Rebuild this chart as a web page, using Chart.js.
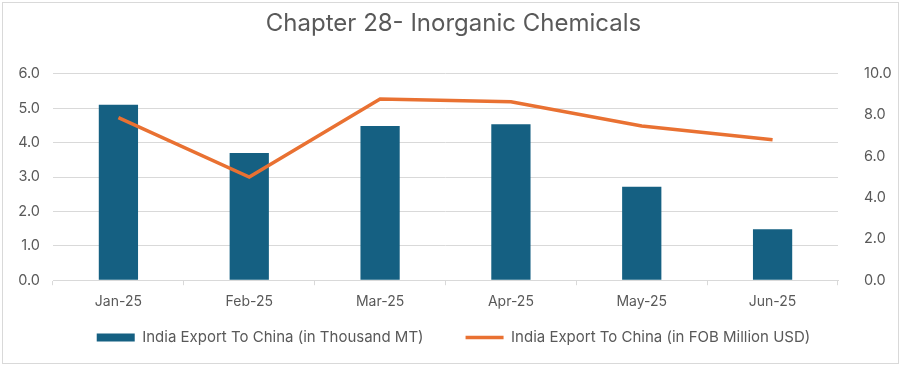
<!DOCTYPE html>
<html>
<head>
<meta charset="utf-8">
<script src="https://cdn.jsdelivr.net/npm/chart.js@4"></script>
<style>
  html, body { margin: 0; padding: 0; background: #fff; }
  #wrap {
    position: absolute; left: 2px; top: 2px; width: 897px; height: 362px;
    border: 1px solid #d9d9d9; box-sizing: border-box; background: #fff;
  }
</style>
</head>
<body>
<div id="wrap"><canvas id="chart"></canvas></div>
<script>
const months = ['Jan-25', 'Feb-25', 'Mar-25', 'Apr-25', 'May-25', 'Jun-25'];
const exportQty = [5.1, 3.7, 4.48, 4.53, 2.72, 1.48];
const exportValue = [7.88, 5.0, 8.78, 8.64, 7.47, 6.8];
const leftTicks = [0, 1, 2, 3, 4, 5, 6];
const rightTicks = [0, 2, 4, 6, 8, 10];

const textColor = '#595959';
const gridColor = '#d9d9d9';
const font = 'Inter, "Open Sans", sans-serif';

new Chart(document.getElementById('chart'), {
  data: {
    labels: months,
    datasets: [
      {
        type: 'line',
        label: 'India Export To China (in FOB Million USD)',
        data: exportValue,
        yAxisID: 'y1',
        borderColor: '#E97132',
        backgroundColor: '#E97132',
        borderWidth: 3.5,
        pointRadius: 0,
        tension: 0,
        order: 0
      },
      {
        type: 'bar',
        label: 'India Export To China (in Thousand MT)',
        data: exportQty,
        yAxisID: 'y',
        backgroundColor: '#156082',
        barPercentage: 0.3,
        categoryPercentage: 1,
        order: 1
      }
    ]
  },
  options: {
    responsive: true,
    maintainAspectRatio: false,
    animation: false,
    layout: { padding: { left: 6, right: 0, top: 4, bottom: 8 } },
    plugins: {
      title: {
        display: true,
        text: 'Chapter 28- Inorganic Chemicals',
        color: textColor,
        font: { family: font, size: 24, weight: 'normal' },
        padding: { top: 2, bottom: 36 }
      },
      legend: {
        position: 'bottom',
        reverse: true,
        labels: {
          color: textColor,
          font: { family: font, size: 15 },
          usePointStyle: true,
          pointStyleWidth: 38,
          boxHeight: 8,
          padding: 12,
          generateLabels(chart) {
            const items = Chart.defaults.plugins.legend.labels.generateLabels(chart);
            items.forEach(it => {
              const ds = chart.data.datasets[it.datasetIndex];
              it.pointStyle = ds.type === 'line' ? 'line' : 'rect';
              if (ds.type === 'line') { it.lineWidth = 3.5; it.strokeStyle = '#E97132'; }
              else { it.lineWidth = 0; it.text += '\u2003\u2003'; }
            });
            return items;
          }
        }
      },
      tooltip: { enabled: false }
    },
    scales: {
      x: {
        grid: { drawOnChartArea: false, drawTicks: true, tickLength: 5, color: gridColor, offset: true },
        border: { display: true, color: gridColor },
        ticks: { color: textColor, font: { family: font, size: 14 }, padding: 8 }
      },
      y: {
        position: 'left',
        min: 0, max: 6,
        afterBuildTicks(axis) { axis.ticks = leftTicks.map(v => ({ value: v })); },
        afterFit(axis) { axis.width = 44; },
        grid: { color: gridColor, drawTicks: false },
        border: { display: false },
        ticks: { color: textColor, font: { family: font, size: 14.5 }, padding: 13,
                 callback: v => v.toFixed(1) }
      },
      y1: {
        position: 'right',
        min: 0, max: 10,
        afterBuildTicks(axis) { axis.ticks = rightTicks.map(v => ({ value: v })); },
        afterFit(axis) { axis.width = 60; },
        grid: { drawOnChartArea: false, drawTicks: false },
        border: { display: false },
        ticks: { color: textColor, font: { family: font, size: 14.5 }, padding: 26,
                 callback: v => v.toFixed(1) }
      }
    }
  }
});
</script>
</body>
</html>
